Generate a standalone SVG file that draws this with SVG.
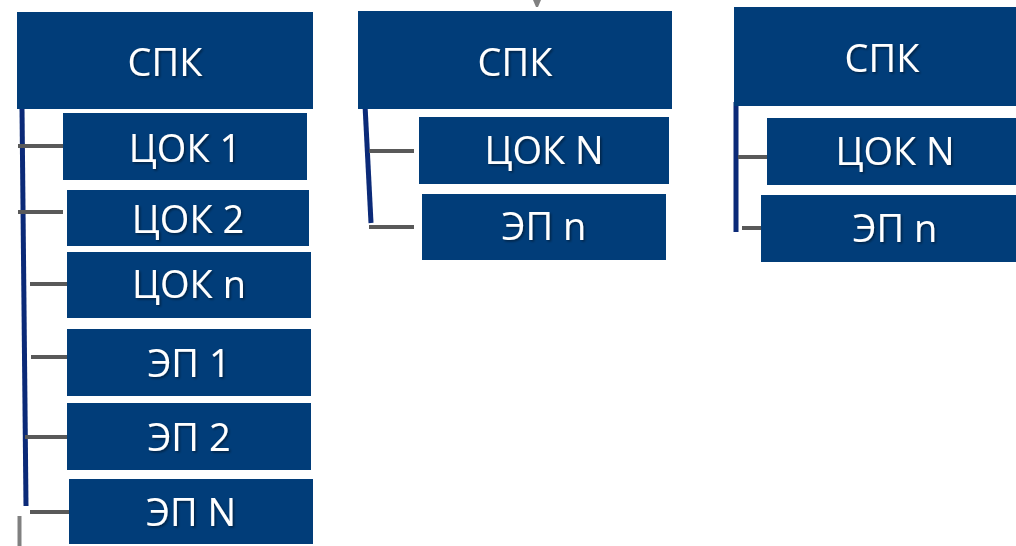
<svg xmlns="http://www.w3.org/2000/svg" width="1016" height="546" viewBox="0 0 1016 546">
<defs>
<style>
.box{fill:#013d79}
.t{fill:#ffffff;font-family:"Open Sans","Noto Sans",sans-serif;font-size:38px;text-anchor:middle;filter:url(#sh)}
.v{stroke:#0b2a78;stroke-width:5;fill:none}
.h{stroke:#595959;stroke-width:4;fill:none}
</style>
<filter id="sh" x="-10%" y="-10%" width="130%" height="140%">
<feDropShadow dx="1.5" dy="1.5" stdDeviation="0.8" flood-color="#000" flood-opacity="0.45"/>
</filter>
</defs>
<rect width="1016" height="546" fill="#ffffff"/>
<g id="connectors">
<line class="v" x1="22" y1="108" x2="26" y2="506"/>
<line class="h" x1="18" y1="146" x2="63" y2="146"/>
<line class="h" x1="18" y1="212" x2="63" y2="212"/>
<line class="h" x1="30" y1="284" x2="75" y2="284"/>
<line class="h" x1="31" y1="357" x2="76" y2="357"/>
<line class="h" x1="25" y1="437" x2="67" y2="437"/>
<line class="h" x1="30" y1="512" x2="69" y2="512"/>
<line x1="19.500" y1="516" x2="19.500" y2="546" stroke="#808080" stroke-width="4"/>
<path d="M533 0 L541 0 L538 7 L536 7 Z" fill="#808080"/>
<line class="v" x1="365" y1="105" x2="371" y2="223"/>
<line class="h" x1="369" y1="151" x2="414" y2="151"/>
<line class="h" x1="369" y1="227" x2="414" y2="227"/>
<line class="v" x1="736" y1="102" x2="736" y2="232"/>
<line class="h" x1="738" y1="157" x2="782" y2="157"/>
<line class="h" x1="742" y1="228" x2="786" y2="228"/>
</g>
<g id="spk1"><rect class="box" x="17" y="12" width="296" height="97"/><text class="t" x="165" y="76">СПК</text></g>
<g id="tsok1"><rect class="box" x="63" y="113" width="244" height="67"/><text class="t" x="185" y="162">ЦОК 1</text></g>
<g id="tsok2"><rect class="box" x="67" y="190" width="242" height="56"/><text class="t" x="188" y="233">ЦОК 2</text></g>
<g id="tsokn"><rect class="box" x="67" y="252" width="244" height="66"/><text class="t" x="189" y="298">ЦОК n</text></g>
<g id="ep1"><rect class="box" x="67" y="329" width="244" height="67"/><text class="t" x="189" y="377">ЭП 1</text></g>
<g id="ep2"><rect class="box" x="67" y="403" width="244" height="67"/><text class="t" x="189" y="451">ЭП 2</text></g>
<g id="epN"><rect class="box" x="69" y="479" width="244" height="65"/><text class="t" x="191" y="526">ЭП N</text></g>
<g id="spk2"><rect class="box" x="358" y="11" width="314" height="98"/><text class="t" x="515" y="76">СПК</text></g>
<g id="tsokN2"><rect class="box" x="419" y="117" width="250" height="67"/><text class="t" x="544" y="164">ЦОК N</text></g>
<g id="epn2"><rect class="box" x="422" y="194" width="244" height="66"/><text class="t" x="544" y="240">ЭП n</text></g>
<g id="spk3"><rect class="box" x="734" y="7" width="282" height="99"/><text class="t" x="882" y="72">СПК</text></g>
<g id="tsokN3"><rect class="box" x="767" y="118" width="249" height="67"/><text class="t" x="895" y="165">ЦОК N</text></g>
<g id="epn3"><rect class="box" x="761" y="195" width="255" height="67"/><text class="t" x="895" y="242">ЭП n</text></g>
</svg>
